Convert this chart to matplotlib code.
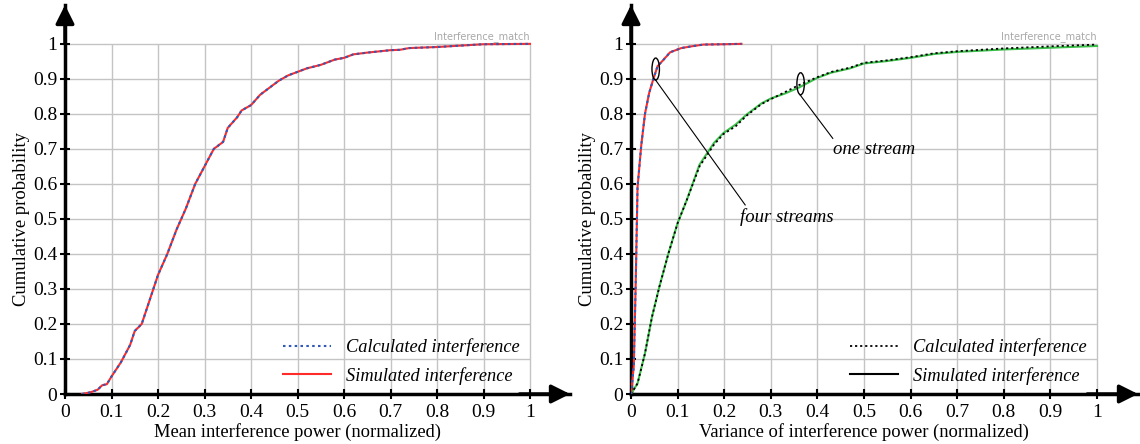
import matplotlib
matplotlib.use("Agg")
import matplotlib.pyplot as plt
from matplotlib.patches import Ellipse
from matplotlib.lines import Line2D

plt.rcParams['font.family'] = ['Liberation Serif', 'DejaVu Serif']
plt.rcParams['mathtext.fontset'] = 'stix'

# ---------------- data ----------------
# Left panel: CDF of mean interference power (normalized)
mean_x = [0.037, 0.055, 0.07, 0.08, 0.09, 0.10, 0.12, 0.14, 0.15, 0.165, 0.18, 0.20, 0.22,
          0.24, 0.26, 0.28, 0.30, 0.32, 0.34, 0.35, 0.37, 0.38, 0.40, 0.42, 0.44, 0.46,
          0.48, 0.50, 0.52, 0.55, 0.58, 0.60, 0.62, 0.65, 0.70, 0.72, 0.74, 0.80, 0.85,
          0.90, 1.00]
mean_calc_y = [0.0, 0.005, 0.012, 0.025, 0.028, 0.05, 0.09, 0.14, 0.18, 0.20, 0.26, 0.34, 0.40,
               0.47, 0.53, 0.60, 0.65, 0.70, 0.72, 0.76, 0.79, 0.81, 0.825, 0.855, 0.875, 0.895,
               0.91, 0.92, 0.93, 0.94, 0.955, 0.96, 0.97, 0.975, 0.982, 0.983, 0.988, 0.991, 0.995,
               0.999, 1.0]
mean_sim_y = [0.0, 0.005, 0.012, 0.025, 0.028, 0.05, 0.09, 0.14, 0.18, 0.20, 0.26, 0.34, 0.40,
              0.47, 0.53, 0.60, 0.65, 0.70, 0.72, 0.76, 0.79, 0.81, 0.825, 0.855, 0.875, 0.895,
              0.91, 0.92, 0.93, 0.94, 0.955, 0.96, 0.97, 0.975, 0.982, 0.983, 0.988, 0.991, 0.995,
              0.999, 1.0]

# Right panel: CDF of variance of interference power (normalized)
four_x = [0.0, 0.006, 0.01, 0.014, 0.022, 0.03, 0.039, 0.048, 0.057, 0.07, 0.084, 0.108,
          0.13, 0.155, 0.20, 0.237]
four_calc_y = [0.0, 0.08, 0.31, 0.59, 0.71, 0.80, 0.86, 0.90, 0.936, 0.955, 0.976, 0.988,
               0.993, 0.998, 0.999, 1.0]
four_sim_y = [0.0, 0.08, 0.31, 0.59, 0.71, 0.80, 0.86, 0.90, 0.936, 0.955, 0.976, 0.988,
              0.993, 0.998, 0.999, 1.0]

one_x = [0.0, 0.014, 0.03, 0.045, 0.061, 0.08, 0.10, 0.12, 0.147, 0.178, 0.198, 0.225,
         0.248, 0.28, 0.30, 0.33, 0.36, 0.40, 0.43, 0.47, 0.50, 0.55, 0.60, 0.65, 0.70,
         0.80, 0.90, 1.00]
one_calc_y = [0.0, 0.03, 0.116, 0.22, 0.307, 0.40, 0.488, 0.555, 0.65, 0.712, 0.742, 0.765,
              0.795, 0.828, 0.842, 0.862, 0.882, 0.905, 0.92, 0.932, 0.946, 0.953, 0.962, 0.973,
              0.979, 0.987, 0.993, 0.998]
one_sim_y = [0.0, 0.03, 0.116, 0.22, 0.307, 0.40, 0.488, 0.555, 0.655, 0.717, 0.745, 0.77,
             0.798, 0.83, 0.844, 0.858, 0.875, 0.903, 0.918, 0.93, 0.944, 0.951, 0.96, 0.971,
             0.977, 0.984, 0.989, 0.994]

ticks = [0.0, 0.1, 0.2, 0.3, 0.4, 0.5, 0.6, 0.7, 0.8, 0.9, 1.0]
tick_labels = ['0', '0.1', '0.2', '0.3', '0.4', '0.5', '0.6', '0.7', '0.8', '0.9', '1']

RED = '#ff2b2b'
BLUE = '#2f58b8'
GREEN = '#3cbf4a'
GRID = '#c4c4c4'
YMAX = 1.111

fig = plt.figure(figsize=(11.4, 4.44), dpi=100)

def setup_axes(ax, xmax, xlabel):
    ax.set_xlim(0, xmax)
    ax.set_ylim(0, YMAX)
    for s in ['top', 'right']:
        ax.spines[s].set_visible(False)
    for s in ['left', 'bottom']:
        ax.spines[s].set_linewidth(2.5)
    # grid limited to [0,1]x[0,1]
    ax.vlines(ticks[1:], 0, 1, colors=GRID, lw=1.0, zorder=0)
    ax.hlines(ticks[1:], 0, 1, colors=GRID, lw=1.0, zorder=0)
    ax.set_xticks(ticks)
    ax.set_xticklabels(tick_labels)
    ax.set_yticks(ticks)
    ax.set_yticklabels(tick_labels)
    ax.tick_params(direction='inout', length=7, width=1.5, labelsize=14)
    ax.tick_params(axis='x', pad=4)
    ax.tick_params(axis='y', pad=2)
    ax.set_xlabel(xlabel, fontsize=13.3)
    ax.xaxis.set_label_coords(0.5 / xmax, -0.075)
    ax.set_ylabel('Cumulative probability', fontsize=13.4)
    ax.yaxis.set_label_coords(-0.07, 0.5 / YMAX)
    # arrow heads
    ax.annotate('', xy=(1.0, 0), xytext=(0.9, 0), xycoords='axes fraction',
                arrowprops=dict(arrowstyle='-|>', lw=2.5, mutation_scale=28, color='k',
                                shrinkA=0, shrinkB=0), annotation_clip=False)
    ax.annotate('', xy=(0, 1.0), xytext=(0, 0.9), xycoords='axes fraction',
                arrowprops=dict(arrowstyle='-|>', lw=2.5, mutation_scale=28, color='k',
                                shrinkA=0, shrinkB=0), annotation_clip=False)
    ax.text(1.0, 1.02, 'Interference_match', ha='right', va='center', fontsize=7,
            color='#a8a8a8', family=['DejaVu Sans'])

legend_kw = dict(loc='lower right', frameon=False, prop=dict(style='italic', size=13.2),
                 handlelength=2.6, handletextpad=0.8, labelspacing=0.6, borderaxespad=0)

# ---------- left panel ----------
ax1 = fig.add_axes([65/1140, 50/444, 505/1140, 389/444])
setup_axes(ax1, 505/465, 'Mean interference power (normalized)')
l_sim, = ax1.plot(mean_x, mean_sim_y, color=RED, lw=1.5, zorder=3)
l_calc, = ax1.plot(mean_x, mean_calc_y, color=BLUE, lw=1.5, ls=(0, (1.2, 1.6)), zorder=4)
ax1.legend([l_calc, l_sim], ['Calculated interference', 'Simulated interference'],
           bbox_to_anchor=(0.993, 0.005), bbox_transform=ax1.transData, **legend_kw)

# ---------- right panel ----------
ax2 = fig.add_axes([631/1140, 50/444, 507/1140, 389/444])
setup_axes(ax2, 507/466, 'Variance of interference power (normalized)')
ax2.plot(one_x, one_sim_y, color=GREEN, lw=1.5, zorder=3)
ax2.plot(one_x, one_calc_y, color='black', lw=1.3, ls=(0, (1.2, 1.6)), zorder=4)
ax2.plot(four_x, four_sim_y, color=RED, lw=1.5, zorder=3)
ax2.plot(four_x, four_calc_y, color=BLUE, lw=1.5, ls=(0, (1.2, 1.6)), zorder=4)

h_calc = Line2D([], [], color='black', lw=1.3, ls=(0, (1.2, 1.6)))
h_sim = Line2D([], [], color='black', lw=1.5)
ax2.legend([h_calc, h_sim], ['Calculated interference', 'Simulated interference'],
           bbox_to_anchor=(0.993, 0.005), bbox_transform=ax2.transData, **legend_kw)

# annotations
ax2.add_patch(Ellipse((0.053, 0.928), 0.016, 0.063, fill=False, lw=1.0, ec='black', zorder=5))
ax2.plot([0.0515, 0.245], [0.899, 0.54], color='black', lw=0.8, zorder=5)
ax2.text(0.234, 0.506, 'four streams', style='italic', fontsize=13.5, ha='left', va='center')

ax2.add_patch(Ellipse((0.364, 0.886), 0.016, 0.063, fill=False, lw=1.0, ec='black', zorder=5))
ax2.plot([0.363, 0.433], [0.854, 0.73], color='black', lw=0.8, zorder=5)
ax2.text(0.433, 0.697, 'one stream', style='italic', fontsize=13.5, ha='left', va='center')

fig.savefig('out.png', dpi=100)
